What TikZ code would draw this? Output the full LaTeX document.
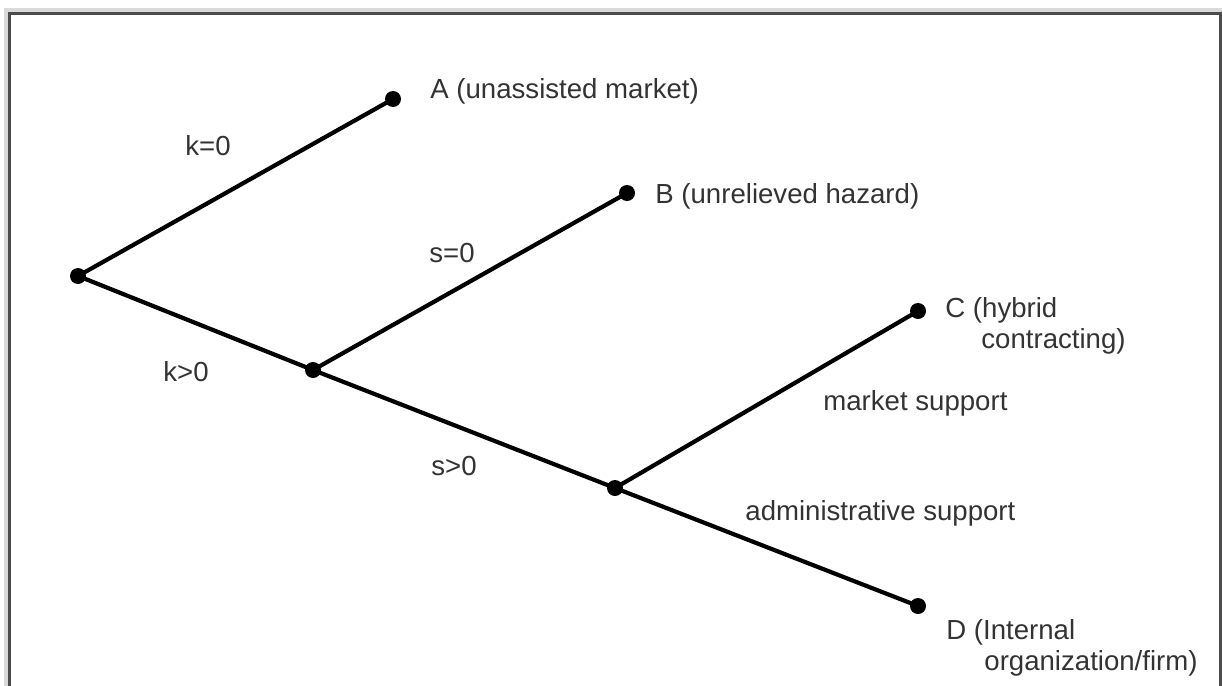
\documentclass[tikz,border=0pt]{standalone}
\usepackage{fontspec}
\setmainfont{Liberation Sans}
\usepackage{tikz}

\begin{document}
\begin{tikzpicture}
[x=0.5pt,y=-0.5pt]
\tikzset{circ/.style={circle,fill=black,inner sep=0pt,minimum size=8pt}}
\tikzset{lbl/.style={anchor=base west,inner sep=0pt,text=black!80,font=\fontsize{13.8}{15.5}\selectfont,align=left}}
\useasboundingbox (0,0) rectangle (1222,686);
\clip (0,0) rectangle (1222,686);
% frame
\draw[black!15,line width=3pt] (7,700) -- (7,11) -- (1222,11) -- (1222,700);
\draw[black!70,line width=1.5pt] (9,700) -- (9,13) -- (1220,13) -- (1220,700);
% tree
\node [circ] (n1) at (78,276) {};
\node [circ] (n2) at (393,99) {};
\node [circ] (n3) at (313,370) {};
\node [circ] (n4) at (627,193) {};
\node [circ] (n5) at (615,488) {};
\node [circ] (n6) at (918,311) {};
\node [circ] (n7) at (918,606) {};
\foreach \from/\to in {n1/n2,n1/n3,n3/n4,n3/n5,n5/n6,n5/n7}
	\draw [line width=2.1pt] (\from.center) -- (\to.center);
% end labels (base = last line)
\node [lbl] (tA) at (430,98) {A (unassisted market)};
\node [lbl] (tB) at (655,203) {B (unrelieved hazard)};
\node [lbl] (tC) at (945,348) {C (hybrid\\\hspace*{18pt}contracting)};
\node [lbl] (tD) at (946,670) {D (Internal\\\hspace*{19pt}organization/firm)};
% branch labels
\node [lbl] (k0) at (185,155) {k=0};
\node [lbl] (k1) at (163,381) {k>0};
\node [lbl] (s0) at (429,262) {s=0};
\node [lbl] (s1) at (431,475) {s>0};
\node [lbl] (ms) at (823,410) {market support};
\node [lbl] (as) at (745,520) {administrative support};
\end{tikzpicture}
\end{document}
